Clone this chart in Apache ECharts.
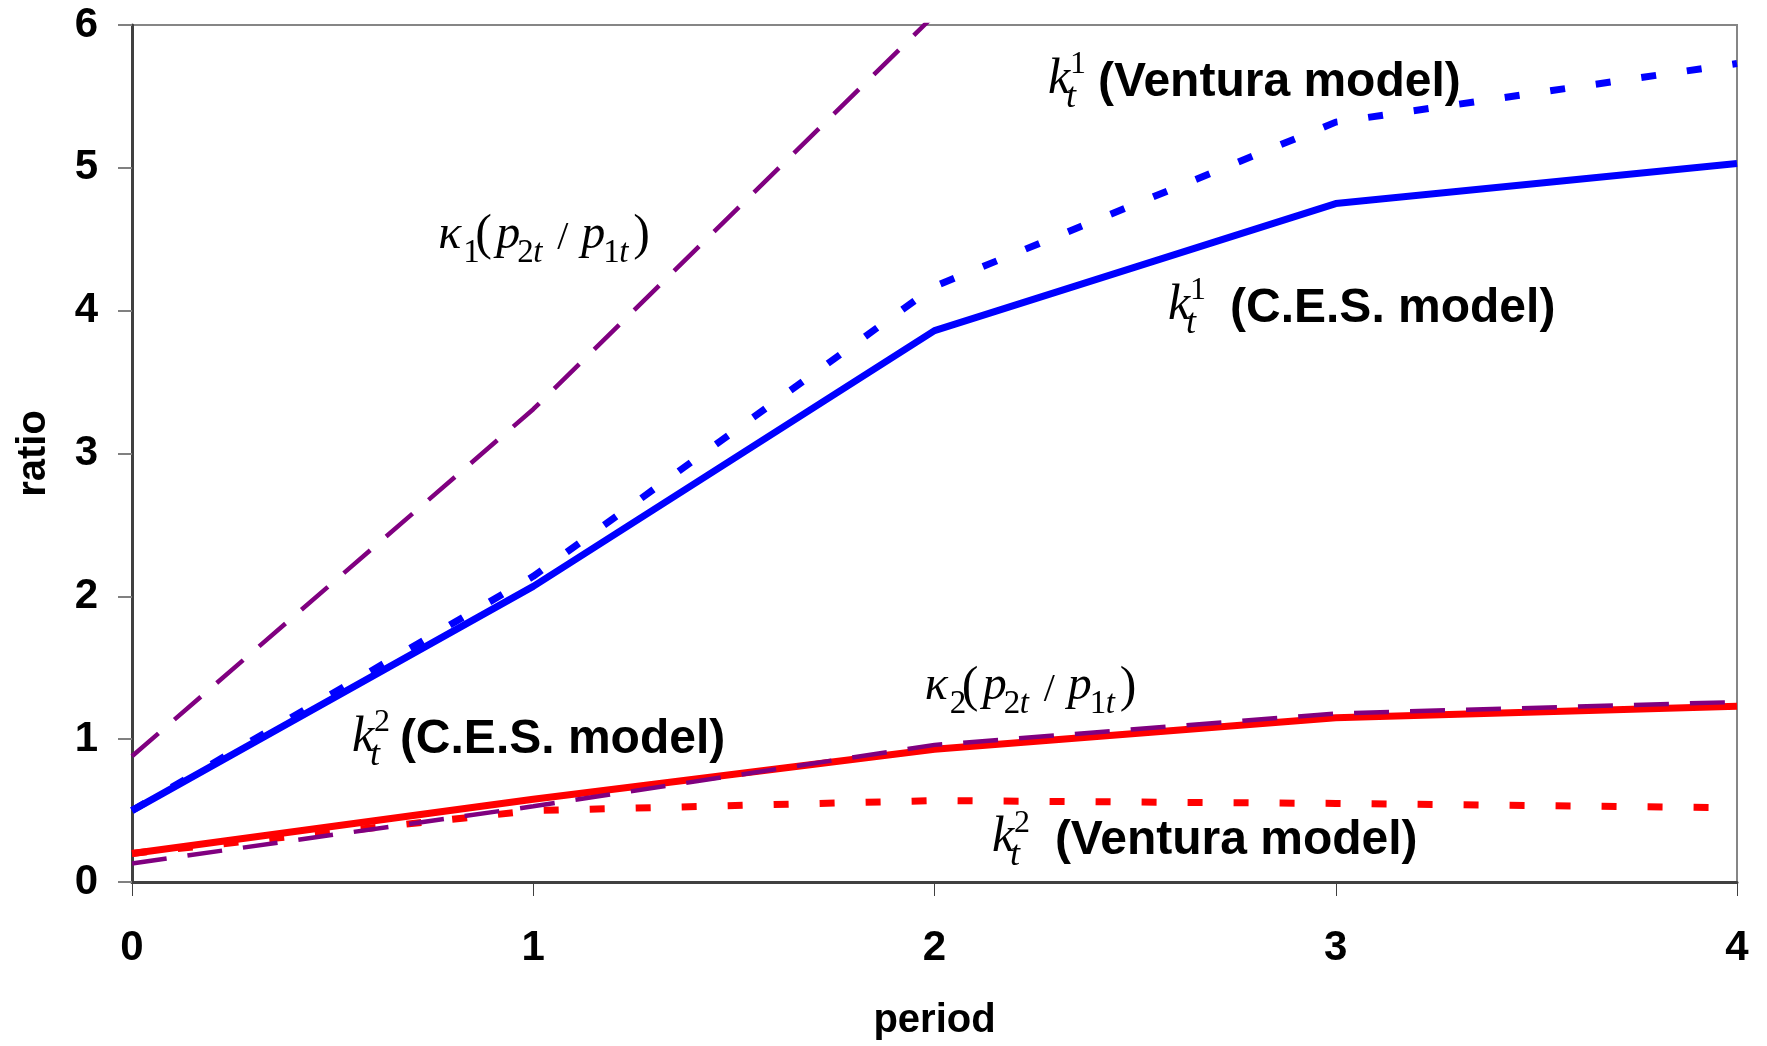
<!DOCTYPE html>
<html><head><meta charset="utf-8">
<script src="https://cdn.jsdelivr.net/npm/echarts/dist/echarts.min.js"></script>
<style>html,body{margin:0;padding:0;background:#fff}#c{width:1767px;height:1046px}</style>
</head><body><div id="c"></div>
<script>
// ---- data ----
const periods = [0, 1, 2, 3, 4];
const k1CES = [0.50, 2.07, 3.86, 4.75, 5.03];
const k1Ventura = [0.50, 2.14, 4.17, 5.32, 5.73];
const kappa1 = [0.88, 3.31, 6.07];           // leaves the plot above 6 just before period 2
const k2CES = [0.20, 0.58, 0.93, 1.15, 1.23];
const k2Ventura = [0.20, 0.50, 0.57, 0.55, 0.52];
const kappa2 = [0.13, 0.53, 0.96, 1.18, 1.26];
const xTickLabels = ['0', '1', '2', '3', '4'];
const yTickLabels = ['0', '1', '2', '3', '4', '5', '6'];

// annotation texts and their anchors (data coordinates)
const kLabels = [
  { sup: '1', text: '(Ventura model)', at: [2.283, 5.498], gap: 50 },
  { sup: '1', text: '(C.E.S. model)', at: [2.582, 3.914], gap: 62 },
  { sup: '2', text: '(C.E.S. model)', at: [0.548, 0.893], gap: 48 },
  { sup: '2', text: '(Ventura model)', at: [2.143, 0.188], gap: 63 }
];
const kappaLabels = [
  { idx: '1', at: [0.763, 4.416] },
  { idx: '2', at: [1.976, 1.256] }
];

const SANS = '"Liberation Sans", Arial, sans-serif';
const SERIF = '"Liberation Serif", "Times New Roman", serif';
const BLUE = '#0000FF', RED = '#FF0000', PURPLE = '#800080';

const pairs = (arr) => arr.map((v, i) => [periods[i], v]);

const chart = echarts.init(document.getElementById('c'), null, { renderer: 'canvas' });

function line(name, arr, color, width, dash, z) {
  return {
    name, type: 'line', data: pairs(arr), symbol: 'none', showSymbol: false,
    clip: true, z: z,
    lineStyle: { color, width, type: dash || 'solid', cap: 'butt' },
    emphasis: { disabled: true }
  };
}

const option = {
  animation: false,
  backgroundColor: '#ffffff',
  grid: { left: 132, right: 30, top: 25, bottom: 161, show: true, borderColor: '#868686', borderWidth: 2, backgroundColor: 'transparent', containLabel: false },
  xAxis: {
    type: 'value', min: 0, max: 4, interval: 1,
    name: 'period', nameLocation: 'middle', nameGap: 119,
    nameTextStyle: { fontFamily: SANS, fontWeight: 'bold', fontSize: 40, color: '#000' },
    axisLine: { show: true, onZero: false, lineStyle: { color: '#404040', width: 3 } },
    axisTick: { show: true, inside: false, length: 14, lineStyle: { color: '#404040', width: 1 } },
    axisLabel: { margin: 45, fontFamily: SANS, fontWeight: 'bold', fontSize: 42, color: '#000', showMinLabel: true, showMaxLabel: true, hideOverlap: false,
      formatter: (v) => xTickLabels[Math.round(v)] },
    splitLine: { show: false }
  },
  yAxis: {
    type: 'value', min: 0, max: 6, interval: 1,
    name: 'ratio', nameLocation: 'middle', nameGap: 78, nameRotate: 90,
    nameTextStyle: { fontFamily: SANS, fontWeight: 'bold', fontSize: 40, color: '#000' },
    axisLine: { show: true, onZero: false, lineStyle: { color: '#404040', width: 3 } },
    axisTick: { show: true, inside: false, length: 14, lineStyle: { color: '#808080', width: 2 } },
    axisLabel: { margin: 34, fontFamily: SANS, fontWeight: 'bold', fontSize: 42, color: '#000', showMinLabel: true, showMaxLabel: true, hideOverlap: false,
      formatter: (v) => yTickLabels[Math.round(v)] },
    splitLine: { show: false }
  },
  series: [
    line('k1 C.E.S.', k1CES, BLUE, 7, 'solid', 2),
    line('k1 Ventura', k1Ventura, BLUE, 7, [15, 31], 3),
    line('kappa1', kappa1, PURPLE, 4.5, [35, 21], 4),
    line('k2 C.E.S.', k2CES, RED, 7, 'solid', 5),
    line('k2 Ventura', k2Ventura, RED, 7, [15, 31], 6),
    line('kappa2', kappa2, PURPLE, 4.5, [35, 21], 7)
  ]
};
chart.setOption(option);

// ---- annotations (math-style labels) ----
function txt(str, x, baseline, size, family, style, weight) {
  const f = (style || 'normal') + ' ' + (weight || 'normal') + ' ' + size + 'px ' + family;
  return {
    type: 'text', x: x, y: baseline - 0.34 * size, z: 100,
    style: { text: str, font: f, fill: '#000', align: 'left', verticalAlign: 'middle', textAlign: 'left', textVerticalAlign: 'middle' }
  };
}
const g = [];
kLabels.forEach((L) => {
  const p = chart.convertToPixel({ gridIndex: 0 }, L.at);
  const x0 = p[0], b = p[1];
  g.push(txt('k', x0, b, 50, SERIF, 'italic'));
  g.push(txt('t', x0 + 18, b + 13, 36, SERIF, 'italic'));
  g.push(txt(L.sup, x0 + 22, b - 21, 32, SERIF));
  g.push(txt(L.text, x0 + L.gap, b + 2, 48, SANS, 'normal', 'bold'));
});
kappaLabels.forEach((L) => {
  const p = chart.convertToPixel({ gridIndex: 0 }, L.at);
  const x0 = p[0], b = p[1];
  const sb = b + 13;
  g.push(txt('\u03BA', x0, b, 48, SERIF, 'italic'));
  g.push(txt(L.idx, x0 + 25, sb, 33, SERIF));
  g.push(txt('(', x0 + 37, b + 2, 50, SERIF));
  g.push(txt('p', x0 + 58, b, 48, SERIF, 'italic'));
  g.push(txt('2', x0 + 79, sb, 33, SERIF));
  g.push(txt('t', x0 + 95, sb, 33, SERIF, 'italic'));
  g.push(txt('/', x0 + 119, b + 1, 40, SERIF));
  g.push(txt('p', x0 + 143, b, 48, SERIF, 'italic'));
  g.push(txt('1', x0 + 165, sb, 33, SERIF));
  g.push(txt('t', x0 + 181, sb, 33, SERIF, 'italic'));
  g.push(txt(')', x0 + 195, b + 2, 50, SERIF));
});
chart.setOption({ graphic: g });
</script></body></html>
